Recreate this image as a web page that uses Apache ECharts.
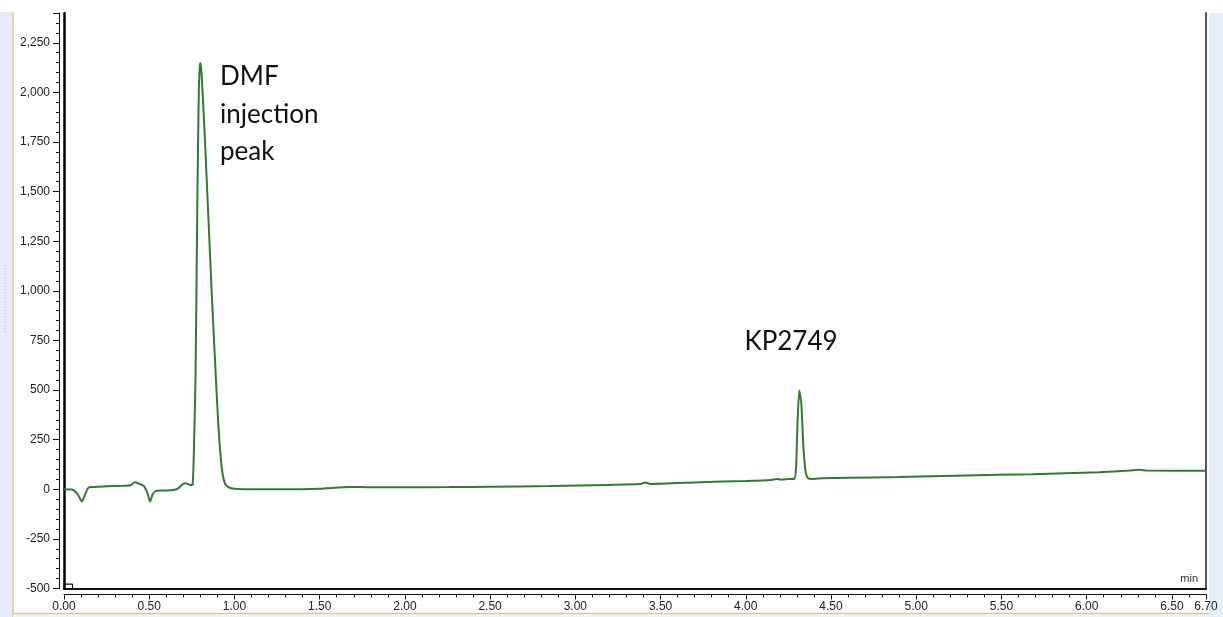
<!DOCTYPE html>
<html>
<head>
<meta charset="utf-8">
<script src="https://cdn.jsdelivr.net/npm/echarts@6/dist/echarts.min.js"></script>
<style>
  html, body { margin: 0; padding: 0; background: #ffffff; }
  #chart { width: 1223px; height: 617px; }
</style>
</head>
<body>
<div id="chart"></div>
<script>
// Chromatogram trace: retention time (min) and detector response
const retentionTime = [
  0.00, 0.05, 0.08, 0.105, 0.12, 0.14, 0.16, 0.25, 0.35, 0.39,
  0.415, 0.44, 0.47, 0.49, 0.505, 0.52, 0.54, 0.60, 0.64, 0.67,
  0.695, 0.715, 0.74, 0.755, 0.765, 0.772, 0.782, 0.791, 0.797, 0.800,
  0.807, 0.827, 0.846, 0.866, 0.885, 0.905, 0.925, 0.944, 0.97, 1.00,
  1.10, 1.30, 1.50, 1.68, 1.80, 2.00, 2.26, 2.50, 2.85, 3.20,
  3.38, 3.41, 3.44, 3.73, 4.00, 4.15, 4.18, 4.21, 4.25, 4.285,
  4.295, 4.304, 4.314, 4.326, 4.338, 4.35, 4.363, 4.39, 4.45, 4.60,
  4.90, 5.29, 5.68, 6.07, 6.25, 6.31, 6.35, 6.70
];
const response = [
  0, -2, -25, -62, -35, 5, 12, 15, 18, 20,
  35, 28, 15, -20, -62, -25, -8, -6, -4, 5,
  25, 30, 22, 25, 300, 584, 1423, 2011, 2130, 2148,
  2097, 1759, 1391, 1003, 666, 332, 112, 30, 8, 3,
  0, 0, 3, 12, 10, 10, 11, 13, 16, 22,
  26, 34, 27, 36, 42, 47, 52, 48, 52, 53,
  112, 347, 498, 431, 212, 95, 58, 52, 55, 58,
  62, 70, 76, 86, 94, 98, 95, 93
];

// Injection marker at the start of the run
const injectMarkerTime = [0.00, 0.00, 0.05, 0.05];
const injectMarkerLevel = [-500, -478, -478, -500];

// Axis ranges and tick spacing
const timeMin = 0, timeMax = 6.7, timeMajor = 0.5, timeMinor = 0.1;
const signalMin = -500, signalMax = 2400, signalMajor = 250, signalMinor = 50;

// Peak annotations
const peakNames = ['DMF\ninjection\npeak', 'KP2749'];

const trace = retentionTime.map((t, i) => [t, response[i]]);
const marker = injectMarkerTime.map((t, i) => [t, injectMarkerLevel[i]]);

const labelFont = { fontFamily: 'Liberation Sans, Arial, sans-serif', fontSize: 12, color: '#222' };

function fmtSignal(v) {
  if (v % signalMajor !== 0) return '';
  return v.toLocaleString('en-US');
}
function fmtTime(v) {
  const isMajor = Math.abs(v / timeMajor - Math.round(v / timeMajor)) < 1e-6;
  if (isMajor || Math.abs(v - timeMax) < 1e-6) return v.toFixed(2);
  return '';
}

const chart = echarts.init(document.getElementById('chart'), null, { renderer: 'canvas' });

const hidden = { show: false };

function line(color, width) {
  return { show: true, onZero: false, lineStyle: { color: color, width: width } };
}
const noLine = { show: false, onZero: false };

const option = {
  animation: false,
  backgroundColor: '#ffffff',
  grid: { left: 64, right: 17, top: 13, bottom: 28.5, containLabel: false },
  xAxis: [
    { // ruler with labels and major ticks
      type: 'value', position: 'bottom', min: timeMin, max: timeMax, interval: timeMajor, offset: 6,
      axisLine: line('#111', 1),
      axisTick: { show: true, length: 5, lineStyle: { color: '#111', width: 1 } },
      axisLabel: Object.assign({ margin: 6, formatter: fmtTime }, labelFont),
      splitLine: hidden
    },
    { // minor ticks
      type: 'value', position: 'bottom', min: timeMin, max: timeMax, interval: timeMinor, offset: 6,
      axisLine: noLine,
      axisTick: { show: true, length: 3, lineStyle: { color: '#111', width: 1 } },
      axisLabel: hidden, splitLine: hidden
    },
    { // plot frame bottom
      type: 'value', position: 'bottom', min: timeMin, max: timeMax, offset: 0,
      axisLine: line('#111', 2),
      axisTick: hidden, axisLabel: hidden, splitLine: hidden
    }
  ],
  yAxis: [
    { // ruler with labels and major ticks
      type: 'value', min: signalMin, max: signalMax, interval: signalMajor, offset: 5,
      position: 'left',
      axisLine: line('#111', 1),
      axisTick: { show: true, length: 6, lineStyle: { color: '#111', width: 1 } },
      axisLabel: Object.assign({ margin: 9, formatter: fmtSignal }, labelFont),
      splitLine: hidden
    },
    { // minor ticks
      type: 'value', min: signalMin, max: signalMax, interval: signalMinor, offset: 5,
      position: 'left',
      axisLine: noLine,
      axisTick: { show: true, length: 3, lineStyle: { color: '#111', width: 1 } },
      axisLabel: hidden, splitLine: hidden
    },
    { // plot frame left
      type: 'value', min: signalMin, max: signalMax, offset: 0, position: 'left',
      axisLine: line('#000', 2.5),
      axisTick: hidden, axisLabel: hidden, splitLine: hidden
    },
    { // plot frame right
      type: 'value', min: signalMin, max: signalMax, offset: 0, position: 'right',
      axisLine: line('#555', 2),
      axisTick: hidden, axisLabel: hidden, splitLine: hidden
    }
  ],
  series: [
    {
      type: 'line', name: 'signal', data: trace,
      xAxisIndex: 0, yAxisIndex: 0,
      showSymbol: false, smooth: 0.2,
      lineStyle: { color: '#327a32', width: 2 },
      z: 5
    },
    {
      type: 'line', name: 'injection', data: marker,
      xAxisIndex: 0, yAxisIndex: 0,
      showSymbol: false,
      lineStyle: { color: '#111', width: 1.2 },
      z: 4
    }
  ],
  graphic: [
    // window frame strips
    { type: 'rect', shape: { x: 0, y: 12, width: 12, height: 605 }, style: { fill: '#e6ecf7' }, silent: true },
    { type: 'line', shape: { x1: 13, y1: 12, x2: 13, y2: 617 }, style: { stroke: '#e4c393', lineWidth: 1.5 }, silent: true },
    { type: 'rect', shape: { x: 1209, y: 13, width: 14, height: 604 }, style: { fill: '#e8eef9' }, silent: true },
    { type: 'rect', shape: { x: 13, y: 614.5, width: 1196, height: 3 }, style: { fill: '#eef2fa' }, silent: true },
    { type: 'line', shape: { x1: 13, y1: 613.5, x2: 1209, y2: 613.5 }, style: { stroke: '#e4c393', lineWidth: 1.5 }, silent: true },
    { type: 'line', shape: { x1: 5, y1: 262, x2: 5, y2: 332 }, style: { stroke: '#b8bec8', lineWidth: 1, lineDash: [1, 2] }, silent: true },
    // unit label
    { type: 'text', x: 1198, y: 579, style: { text: 'min', fill: '#333', font: '11px "Liberation Sans", Arial, sans-serif', textAlign: 'right', textVerticalAlign: 'middle' }, silent: true },
    // peak annotations
    { type: 'text', x: 220, y: 58, style: { text: peakNames[0], fill: '#111', font: '26px Lato, "Open Sans", sans-serif', lineHeight: 37.5, textAlign: 'left', textVerticalAlign: 'top' }, silent: true, z: 10 },
    { type: 'text', x: 791, y: 342, style: { text: peakNames[1], fill: '#111', font: '26px Lato, "Open Sans", sans-serif', textAlign: 'center', textVerticalAlign: 'middle' }, silent: true, z: 10 }
  ]
};

chart.setOption(option);
</script>
</body>
</html>
